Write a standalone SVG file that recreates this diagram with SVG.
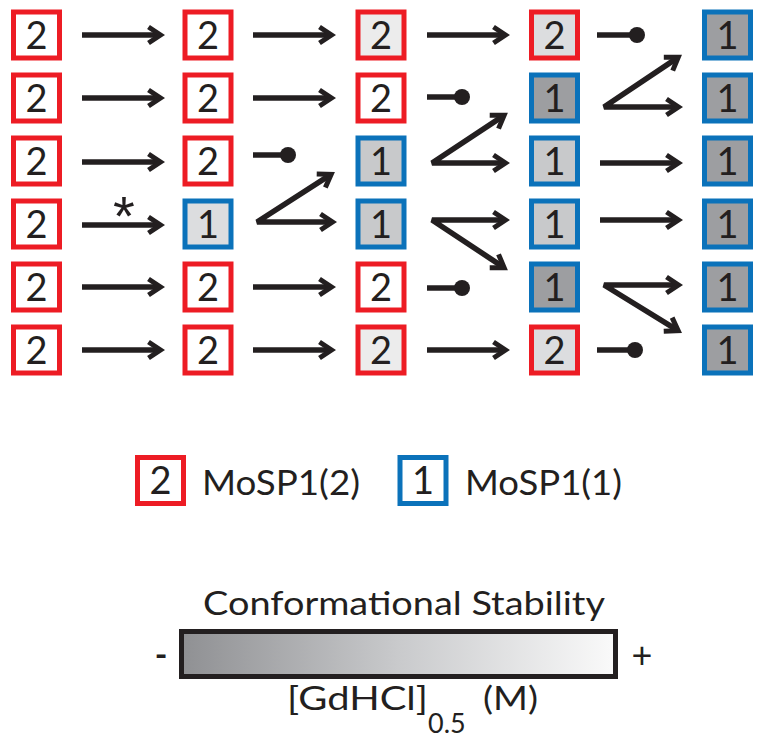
<svg xmlns="http://www.w3.org/2000/svg" width="762" height="747" viewBox="0 0 762 747">
<style>
.box{stroke-width:5}
.r{stroke:#ED1C24}
.b{stroke:#0B72BA}
.w{fill:#ffffff}
.f1{fill:#ececec}
.f2{fill:#dcdddf}
.f3{fill:#c8c9cb}
.f4{fill:#9d9ea1}
.t{font-family:Lato,"Open Sans","Liberation Sans",sans-serif;font-size:38px;fill:#231f20;text-anchor:middle}
.c line,.c path{stroke:#231f20;stroke-width:5.5;fill:none;stroke-linejoin:miter;stroke-miterlimit:2}
.a{marker-end:url(#ah)}
.fk{marker-start:url(#ahs);marker-end:url(#ah)}
.dot{fill:#231f20}
.lg{font-family:Lato,"Open Sans","Liberation Sans",sans-serif;fill:#231f20}
</style>
<defs>
<marker id="ah" markerUnits="userSpaceOnUse" viewBox="-16 -12 24 24" markerWidth="24" markerHeight="24" refX="0" refY="0" orient="auto">
<path d="M-11,-8 L1,0 L-11,8" fill="none" stroke="#231f20" stroke-width="5" stroke-linejoin="miter" stroke-miterlimit="10"/>
</marker>
<marker id="ahs" markerUnits="userSpaceOnUse" viewBox="-16 -12 24 24" markerWidth="24" markerHeight="24" refX="0" refY="0" orient="auto-start-reverse">
<path d="M-11,-8 L1,0 L-11,8" fill="none" stroke="#231f20" stroke-width="5" stroke-linejoin="miter" stroke-miterlimit="10"/>
</marker>
<linearGradient id="grad" x1="0" y1="0" x2="1" y2="0">
<stop offset="0" stop-color="#8f9093"/>
<stop offset="0.5" stop-color="#c9cacc"/>
<stop offset="1" stop-color="#fafafa"/>
</linearGradient>
</defs>
<rect width="762" height="747" fill="#ffffff"/>

<!-- Row 1 -->
<g id="n1_1"><rect class="box r w" x="13.5" y="12" width="46" height="46"/><text class="t" x="36.5" y="48.5">2</text></g>
<g id="n1_2"><rect class="box r w" x="185" y="12" width="46" height="46"/><text class="t" x="208" y="48.5">2</text></g>
<g id="n1_3"><rect class="box r f1" x="358" y="12" width="46" height="46"/><text class="t" x="381" y="48.5">2</text></g>
<g id="n1_4"><rect class="box r f2" x="531.5" y="12" width="46" height="46"/><text class="t" x="554.5" y="48.5">2</text></g>
<g id="n1_5"><rect class="box b f4" x="704.5" y="12" width="46" height="46"/><text class="t" x="727.5" y="48.5">1</text></g>
<!-- Row 2 -->
<g id="n2_1"><rect class="box r w" x="13.5" y="75" width="46" height="46"/><text class="t" x="36.5" y="111.5">2</text></g>
<g id="n2_2"><rect class="box r w" x="185" y="75" width="46" height="46"/><text class="t" x="208" y="111.5">2</text></g>
<g id="n2_3"><rect class="box r w" x="358" y="75" width="46" height="46"/><text class="t" x="381" y="111.5">2</text></g>
<g id="n2_4"><rect class="box b f4" x="531.5" y="75" width="46" height="46"/><text class="t" x="554.5" y="111.5">1</text></g>
<g id="n2_5"><rect class="box b f4" x="704.5" y="75" width="46" height="46"/><text class="t" x="727.5" y="111.5">1</text></g>
<!-- Row 3 -->
<g id="n3_1"><rect class="box r w" x="13.5" y="138" width="46" height="46"/><text class="t" x="36.5" y="174.5">2</text></g>
<g id="n3_2"><rect class="box r w" x="185" y="138" width="46" height="46"/><text class="t" x="208" y="174.5">2</text></g>
<g id="n3_3"><rect class="box b f3" x="358" y="138" width="46" height="46"/><text class="t" x="381" y="174.5">1</text></g>
<g id="n3_4"><rect class="box b f3" x="531.5" y="138" width="46" height="46"/><text class="t" x="554.5" y="174.5">1</text></g>
<g id="n3_5"><rect class="box b f4" x="704.5" y="138" width="46" height="46"/><text class="t" x="727.5" y="174.5">1</text></g>
<!-- Row 4 -->
<g id="n4_1"><rect class="box r w" x="13.5" y="201" width="46" height="46"/><text class="t" x="36.5" y="237.5">2</text></g>
<g id="n4_2"><rect class="box b f2" x="185" y="201" width="46" height="46"/><text class="t" x="208" y="237.5">1</text></g>
<g id="n4_3"><rect class="box b f3" x="358" y="201" width="46" height="46"/><text class="t" x="381" y="237.5">1</text></g>
<g id="n4_4"><rect class="box b f3" x="531.5" y="201" width="46" height="46"/><text class="t" x="554.5" y="237.5">1</text></g>
<g id="n4_5"><rect class="box b f4" x="704.5" y="201" width="46" height="46"/><text class="t" x="727.5" y="237.5">1</text></g>
<!-- Row 5 -->
<g id="n5_1"><rect class="box r w" x="13.5" y="264" width="46" height="46"/><text class="t" x="36.5" y="300.5">2</text></g>
<g id="n5_2"><rect class="box r w" x="185" y="264" width="46" height="46"/><text class="t" x="208" y="300.5">2</text></g>
<g id="n5_3"><rect class="box r w" x="358" y="264" width="46" height="46"/><text class="t" x="381" y="300.5">2</text></g>
<g id="n5_4"><rect class="box b f4" x="531.5" y="264" width="46" height="46"/><text class="t" x="554.5" y="300.5">1</text></g>
<g id="n5_5"><rect class="box b f4" x="704.5" y="264" width="46" height="46"/><text class="t" x="727.5" y="300.5">1</text></g>
<!-- Row 6 -->
<g id="n6_1"><rect class="box r w" x="13.5" y="327" width="46" height="46"/><text class="t" x="36.5" y="363.5">2</text></g>
<g id="n6_2"><rect class="box r w" x="185" y="327" width="46" height="46"/><text class="t" x="208" y="363.5">2</text></g>
<g id="n6_3"><rect class="box r f1" x="358" y="327" width="46" height="46"/><text class="t" x="381" y="363.5">2</text></g>
<g id="n6_4"><rect class="box r f2" x="531.5" y="327" width="46" height="46"/><text class="t" x="554.5" y="363.5">2</text></g>
<g id="n6_5"><rect class="box b f4" x="704.5" y="327" width="46" height="46"/><text class="t" x="727.5" y="363.5">1</text></g>

<g id="connectors" class="c">
<!-- col1 -> col2 -->
<line class="a" x1="82" y1="35" x2="159.5" y2="35"/>
<line class="a" x1="82" y1="98" x2="159.5" y2="98"/>
<line class="a" x1="82" y1="162" x2="159.5" y2="162"/>
<line class="a" x1="82" y1="225" x2="159.5" y2="225"/>
<line class="a" x1="82" y1="287" x2="159.5" y2="287"/>
<line class="a" x1="82" y1="350" x2="159.5" y2="350"/>
<text x="124" y="235" font-family="'Liberation Sans',sans-serif" font-size="56" text-anchor="middle" fill="#231f20" stroke="none">*</text>
<!-- col2 -> col3 -->
<line class="a" x1="253" y1="35" x2="330.5" y2="35"/>
<line class="a" x1="253" y1="98" x2="330.5" y2="98"/>
<line x1="253" y1="155" x2="288" y2="155"/>
<circle class="dot" cx="288" cy="155" r="8"/>
<path class="fk" d="M330.3,174.9 L257,222 L331.5,222"/>
<line class="a" x1="253" y1="287" x2="330.5" y2="287"/>
<line class="a" x1="253" y1="350" x2="330.5" y2="350"/>
<!-- col3 -> col4 -->
<line class="a" x1="427" y1="35" x2="504.5" y2="35"/>
<line x1="427" y1="97" x2="462" y2="97"/>
<circle class="dot" cx="462" cy="97" r="8"/>
<path class="fk" d="M503.3,115.9 L432,163 L504.5,163"/>
<path class="fk" d="M503.3,267.1 L432,220 L504.5,220"/>
<line x1="427" y1="288" x2="462" y2="288"/>
<circle class="dot" cx="462" cy="288" r="8"/>
<line class="a" x1="427" y1="350" x2="504.5" y2="350"/>
<!-- col4 -> col5 -->
<line x1="597" y1="35" x2="637" y2="35"/>
<circle class="dot" cx="637" cy="35" r="8"/>
<path class="fk" d="M677.4,57.9 L604,107 L677.5,107"/>
<line class="a" x1="600" y1="163" x2="677.5" y2="163"/>
<line class="a" x1="600" y1="220" x2="677.5" y2="220"/>
<path class="fk" d="M677.3,330.2 L604,285 L677.5,285"/>
<line x1="597" y1="350" x2="635" y2="350"/>
<circle class="dot" cx="635" cy="350" r="8"/>
</g>

<g id="legend_2">
<rect class="box r w" x="137.5" y="457.5" width="46" height="46"/>
<text class="t" x="160.5" y="494">2</text>
<text class="lg" x="202" y="495" font-size="34" textLength="158" lengthAdjust="spacingAndGlyphs">MoSP1(2)</text>
</g>
<g id="legend_1">
<rect class="box b w" x="400" y="457.5" width="46" height="46"/>
<text class="t" x="423" y="494">1</text>
<text class="lg" x="465" y="495" font-size="34" textLength="157" lengthAdjust="spacingAndGlyphs">MoSP1(1)</text>
</g>

<g id="stability_scale">
<text class="lg" x="203" y="615" font-size="32" textLength="402" lengthAdjust="spacingAndGlyphs">Conformational Stability</text>
<rect x="181.5" y="631.5" width="434" height="45" fill="url(#grad)" stroke="#231f20" stroke-width="5"/>
<text class="lg" x="161" y="667" font-size="34" font-weight="bold" text-anchor="middle">-</text>
<text class="lg" x="642" y="668" font-size="36" text-anchor="middle">+</text>
<text class="lg" x="287" y="710" font-size="32"><tspan textLength="141" lengthAdjust="spacingAndGlyphs">[GdHCl]</tspan><tspan x="428" y="733" font-size="27">0.5</tspan><tspan x="483" y="710" textLength="55" lengthAdjust="spacingAndGlyphs">(M)</tspan></text>
</g>
</svg>
